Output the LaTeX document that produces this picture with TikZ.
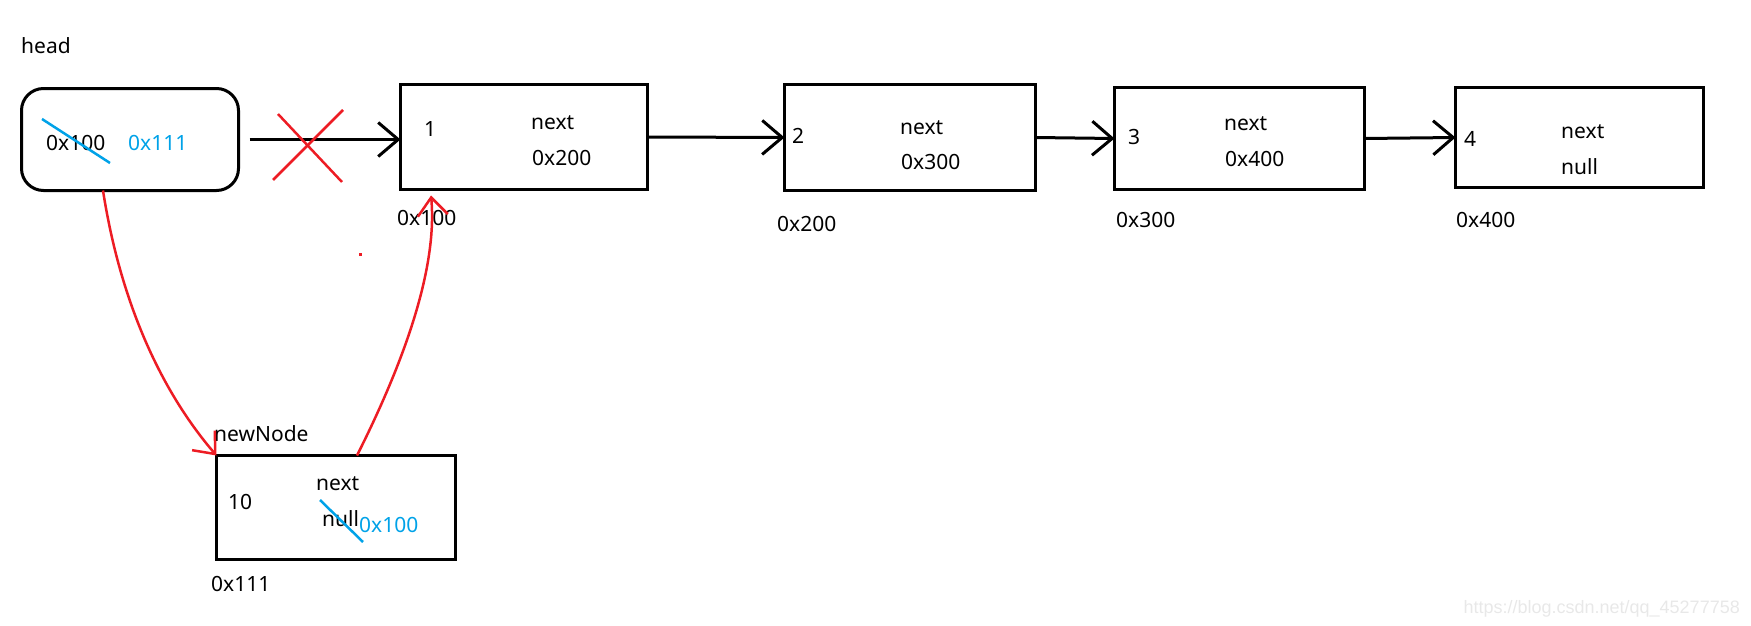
\documentclass[tikz,border=0pt]{standalone}
\usepackage{fontspec}
\setmainfont{Noto Sans}
\newfontfamily\wmfont{Liberation Sans}
\usepackage{tikz}
\usetikzlibrary{arrows.meta}
\definecolor{pblue}{HTML}{00A2E8}
\definecolor{pred}{HTML}{ED1C24}

\begin{document}
\begin{tikzpicture}[x=1pt,y=-1pt,
    box/.style={draw,line width=3pt,inner sep=0,outer sep=0},
    lbl/.style={inner sep=0,anchor=base west,font=\fontsize{21}{25}\selectfont},
    arr/.style={line width=3pt,-{Straight Barb[length=20pt,width=34pt]}},
    redarr/.style={pred,line width=2.5pt,-{Straight Barb[length=18pt,width=30pt]}},
    strike/.style={pblue,line width=2.5pt},
    cross/.style={pred,line width=2.5pt}]
			\useasboundingbox (0,0) rectangle (1751,626);
			% boxes
			\node[box,rounded corners=22pt,minimum width=217pt,minimum height=102pt] (head) at (130,139.5) {};
			\node[box,minimum width=247pt,minimum height=105pt] (n1) at (524,137) {};
			\node[box,minimum width=251pt,minimum height=106pt] (n2) at (910,137.5) {};
			\node[box,minimum width=250pt,minimum height=102pt] (n3) at (1239.5,138.5) {};
			\node[box,minimum width=248pt,minimum height=100pt] (n4) at (1579.5,137.5) {};
			\node[box,minimum width=239pt,minimum height=104pt] (newnode) at (336,507.5) {};
			% head
			\node[lbl] (headlbl) at (21,54) {head};
			\node[lbl] (hold) at (46,150) {0x100};
			\node[lbl,pblue] (hnew) at (128,150) {0x111};
			\draw[strike] (42,119) -- (110,163);
			% list nodes
			\node[lbl] (v1) at (424,136) {1};
			\node[lbl] (nx1) at (531,129) {next};
			\node[lbl] (p1) at (532,165) {0x200};
			\node[lbl] (a1) at (397,225) {0x100};
			\node[lbl] (v2) at (792,143) {2};
			\node[lbl] (nx2) at (900,134) {next};
			\node[lbl] (p2) at (901,169) {0x300};
			\node[lbl] (a2) at (777,231) {0x200};
			\node[lbl] (v3) at (1128,144) {3};
			\node[lbl] (nx3) at (1224,130) {next};
			\node[lbl] (p3) at (1225,166) {0x400};
			\node[lbl] (a3) at (1116,227) {0x300};
			\node[lbl] (v4) at (1464,146) {4};
			\node[lbl] (nx4) at (1561,138) {next};
			\node[lbl] (p4) at (1561,174) {null};
			\node[lbl] (a4) at (1456,227) {0x400};
			% new node
			\node[lbl] (nnlbl) at (214,441) {newNode};
			\node[lbl] (v0) at (228,509) {10};
			\node[lbl] (nx0) at (316,490) {next};
			\node[lbl] (p0) at (322,526) {null};
			\node[lbl,pblue] (p0new) at (359,532) {0x100};
			\node[lbl] (a0) at (211,591) {0x111};
			\draw[strike] (320,500) -- (363,542);
			% links
			\draw[arr] ([xshift=11pt]head.east) -- (head.east -| n1.west);
			\draw[cross] (278,114) -- (342,182);
			\draw[cross] (343,110) -- (273,180);
			\draw[arr] (n1.east) -- (n2.west);
			\draw[arr] (n2.east) -- (n3.west);
			\draw[arr] (n3.east) -- (n4.west);
			\draw[redarr] ([xshift=-27pt]head.south) .. controls (120,300) and (160,390) .. (newnode.north west);
			\draw[redarr] ([xshift=21pt]newnode.north) .. controls (400,370) and (438,272) .. ([xshift=-93pt,yshift=-6pt]n1.south);
			\fill[pred] (358.5,252.5) rectangle (361.5,255.5);
			\node[anchor=base east,inner sep=0,font=\wmfont\fontsize{18}{20}\selectfont,black!9] (mark) at (1740,613) {https://blog.csdn.net/qq\_45277758};
		\end{tikzpicture}
\end{document}
